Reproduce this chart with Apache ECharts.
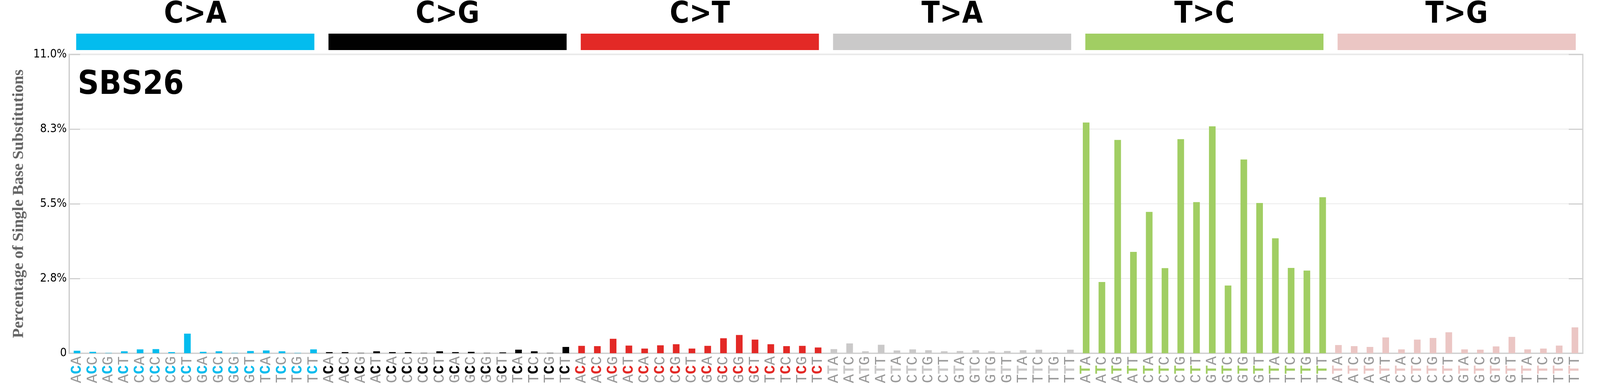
<!DOCTYPE html>
<html><head><meta charset="utf-8">
<script src="https://cdn.jsdelivr.net/npm/echarts@6/dist/echarts.min.js"></script>
<style>html,body{margin:0;padding:0;background:#fff;overflow:hidden}#c{width:100vw;height:100vh}</style>
</head><body><div id="c"></div>
<script>
const mutationTypes = ['C>A','C>G','C>T','T>A','T>C','T>G'];
const mutationColors = ['#03bcee','#010101','#e32926','#cac9c9','#a1ce63','#ebc6c4'];
const contexts5 = ['A','A','A','A','C','C','C','C','G','G','G','G','T','T','T','T'];
const contexts3 = ['A','C','G','T','A','C','G','T','A','C','G','T','A','C','G','T'];
const valsCA = [0.09,0.05,0.01,0.07,0.14,0.15,0.04,0.72,0.05,0.07,0.01,0.08,0.10,0.07,0.01,0.14];
const valsCG = [0.04,0.04,0.01,0.07,0.04,0.04,0.01,0.07,0.04,0.05,0.01,0.03,0.13,0.07,0.01,0.23];
const valsCT = [0.27,0.26,0.53,0.28,0.17,0.29,0.33,0.17,0.27,0.55,0.67,0.50,0.33,0.26,0.27,0.21];
const valsTA = [0.15,0.36,0.07,0.31,0.10,0.14,0.11,0.07,0.08,0.11,0.07,0.08,0.11,0.13,0.03,0.13];
const valsTC = [8.49,2.62,7.85,3.73,5.20,3.13,7.88,5.56,8.35,2.49,7.13,5.53,4.23,3.14,3.04,5.74];
const valsTG = [0.30,0.26,0.23,0.58,0.14,0.50,0.56,0.77,0.14,0.13,0.25,0.60,0.14,0.17,0.28,0.95];
const yTicks = [0, 2.75, 5.5, 8.25, 11];

const groups = [valsCA,valsCG,valsCT,valsTA,valsTC,valsTG];
const cats = [], data = [], labels = [];
groups.forEach((g,gi)=>{
  const ref = mutationTypes[gi][0];
  g.forEach((v,i)=>{
    cats.push(contexts5[i]+ref+contexts3[i]+'_'+gi);
    labels.push('{n|'+contexts5[i]+'}{m'+gi+'|'+ref+'}{n|'+contexts3[i]+'}');
    data.push({value:v, itemStyle:{color:mutationColors[gi]}});
  });
});
const rich = {n:{color:'#999',fontFamily:'Liberation Mono',fontSize:38}};
mutationColors.forEach((c,i)=>{rich['m'+i]={color:c,fontFamily:'Liberation Mono',fontSize:38,fontWeight:'bold'};});

const chart = echarts.init(document.getElementById('c'));
chart.setOption({
  animation:false,
  grid:[
    {left:177,right:44,top:139,height:764,show:true,borderColor:'#d0d0d0',borderWidth:3},
    {left:177,right:44,top:79,height:49}
  ],
  xAxis:[
    {type:'category',gridIndex:0,data:cats,axisTick:{show:false},
     axisLine:{lineStyle:{color:'#d0d0d0',width:3}},
     axisLabel:{interval:0,rotate:90,margin:8,formatter:(v,i)=>labels[i],rich:rich}},
    {type:'category',gridIndex:1,data:mutationTypes,position:'top',
     axisLine:{show:false},axisTick:{show:false},
     axisLabel:{margin:10,fontSize:76,fontWeight:'bold',color:'#000',fontFamily:'DejaVu Sans Condensed'}}
  ],
  yAxis:[
    {type:'value',gridIndex:0,min:0,max:11,interval:2.75,
     name:'Percentage of Single Base Substitutions',nameLocation:'middle',nameGap:108,
     nameTextStyle:{fontFamily:'Liberation Serif',fontWeight:'bold',fontSize:41,color:'#666'},
     axisLine:{show:true,lineStyle:{color:'#d0d0d0',width:3}},
     axisTick:{show:true,inside:true,length:28,lineStyle:{color:'#d0d0d0',width:3}},
     splitLine:{lineStyle:{color:'#ebebeb',width:2}},
     axisLabel:{fontSize:30,color:'#000',fontFamily:'DejaVu Sans Condensed',margin:6,
       formatter:v=>v===0?'0':v.toFixed(1)+'%'}},
    {type:'value',gridIndex:0,min:0,max:11,interval:2.75,position:'right',
     axisLine:{show:false},axisLabel:{show:false},splitLine:{show:false},
     axisTick:{show:true,inside:true,length:36,lineStyle:{color:'#d0d0d0',width:3}}},
    {type:'value',gridIndex:1,min:0,max:1,show:false}
  ],
  graphic:[{type:'text',left:199,top:176,style:{text:'SBS26',font:'bold 84px "DejaVu Sans Condensed"',fill:'#000'}}],
  series:[
    {type:'bar',xAxisIndex:0,yAxisIndex:0,data:data,barWidth:17},
    {type:'bar',xAxisIndex:1,yAxisIndex:2,barCategoryGap:'5.6%',
     data:mutationColors.map(c=>({value:1,itemStyle:{color:c}}))}
  ]
});
</script></body></html>
